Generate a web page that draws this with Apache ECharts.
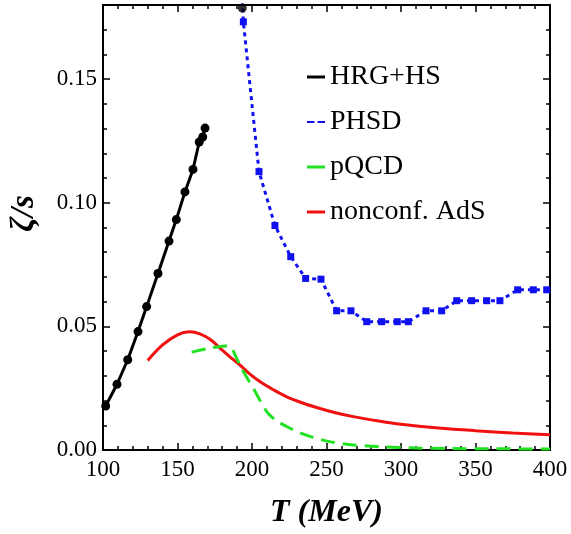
<!DOCTYPE html>
<html>
<head>
<meta charset="utf-8">
<script src="https://cdn.jsdelivr.net/npm/echarts@6/dist/echarts.min.js"></script>
<style>html,body{margin:0;padding:0;background:#fff}#c{width:571px;height:534px}</style>
</head>
<body>
<div id="c"></div>
<script>
// HRG+HS (T, zeta/s)
var hrgT = [101.8, 109.4, 116.6, 123.5, 129.3, 136.9, 144.3, 149.2, 155.0, 160.4, 164.6, 166.9, 168.5];
var hrgV = [0.0178, 0.0266, 0.0365, 0.0479, 0.0580, 0.0714, 0.0845, 0.0932, 0.1044, 0.1135, 0.1246, 0.1266, 0.1302];
var hrgExtraT = [193.5];
var hrgExtraV = [0.1788];
// PHSD
var phsdT = [189.0, 194.2, 204.7, 215.4, 226.0, 236.0, 246.3, 256.8, 266.4, 277.0, 287.0, 297.5, 304.9, 316.8, 327.3, 337.4, 347.4, 357.5, 366.4, 378.3, 388.8, 397.8];
var phsdV = [0.240, 0.1732, 0.1126, 0.0908, 0.0782, 0.0694, 0.0691, 0.0563, 0.0563, 0.0519, 0.0519, 0.0519, 0.0519, 0.0563, 0.0563, 0.0604, 0.0604, 0.0604, 0.0604, 0.0648, 0.0648, 0.0648];
// pQCD
var pqcdT = [159.5, 170, 182, 185, 186.5, 189, 193.1, 200.9, 209.9, 216, 223.3, 232, 241, 252, 263.6, 286, 310, 330, 360, 400];
var pqcdV = [0.0396, 0.0410, 0.0421, 0.0419, 0.0412, 0.0380, 0.0329, 0.0249, 0.0155, 0.0120, 0.0095, 0.0070, 0.0051, 0.0034, 0.0023, 0.0013, 0.0008, 0.0006, 0.0005, 0.0004];
// nonconformal AdS
var adsT = [130, 140, 150, 158, 165, 172, 178.5, 185, 192, 198, 205, 214, 223, 234, 245, 256, 268, 286, 300, 325, 350, 375, 400];
var adsV = [0.0362, 0.0425, 0.0466, 0.0478, 0.0470, 0.0447, 0.0412, 0.0378, 0.0343, 0.0310, 0.0278, 0.0245, 0.0216, 0.0190, 0.0169, 0.0151, 0.0135, 0.0116, 0.0104, 0.0089, 0.0078, 0.0069, 0.0062];
var yTickLabels = ['0.00', '0.05', '0.10', '0.15'];

function zip(a, b) { return a.map(function (x, i) { return [x, b[i]]; }); }

var serif = 'Liberation Serif';
var tickStyle = {color: '#000', width: 1.5};
function xAx(pos, labels) {
  return {
    type: 'value', min: 100, max: 400, interval: 50, position: pos,
    axisLine: {onZero: false, lineStyle: {color: '#000', width: 2}},
    axisTick: {inside: true, length: 7, lineStyle: tickStyle},
    minorTick: {show: true, splitNumber: 5, length: 4, lineStyle: tickStyle},
    splitLine: {show: false}, minorSplitLine: {show: false},
    axisLabel: {show: labels, fontFamily: serif, fontSize: 23, color: '#000', margin: 8}
  };
}
function yAx(pos, interval, len, line, labels) {
  return {
    type: 'value', min: 0, max: 0.18, interval: interval, position: pos,
    axisLine: {show: line, onZero: false, lineStyle: {color: '#000', width: 2}},
    axisTick: {inside: true, length: len, lineStyle: tickStyle},
    splitLine: {show: false},
    axisLabel: {show: labels, showMaxLabel: false, fontFamily: serif, fontSize: 23, color: '#000', margin: 6,
      formatter: function (v) { var i = Math.round(v / 0.05); return yTickLabels[i] || ''; }}
  };
}
var xa0 = xAx('bottom', true);
xa0.name = 'T (MeV)';
xa0.nameLocation = 'middle';
xa0.nameGap = 47;
xa0.nameTextStyle = {fontFamily: serif, fontSize: 32, fontWeight: 'bold', fontStyle: 'italic', color: '#000'};
var ya0 = yAx('left', 0.05, 7, true, true);
ya0.name = 'ζ/s';
ya0.nameLocation = 'middle';
ya0.nameGap = 62;
ya0.nameRotate = 90;
ya0.nameTextStyle = {fontFamily: serif, fontSize: 33, fontWeight: 'bold', fontStyle: 'italic', color: '#000', padding: [0, 0, 0, 28]};

var chart = echarts.init(document.getElementById('c'));
chart.setOption({
  animation: false,
  backgroundColor: '#fff',
  grid: {left: 103, right: 21, top: 5, bottom: 82, containLabel: false},
  xAxis: [xa0, xAx('top', false)],
  yAxis: [ya0, yAx('left', 0.01, 4, false, false), yAx('right', 0.05, 7, true, false), yAx('right', 0.01, 4, false, false)],
  legend: {
    orient: 'vertical', left: 302, top: 58, itemWidth: 18, itemHeight: 3, itemGap: 17,
    textStyle: {fontFamily: serif, fontSize: 28, color: '#000', lineHeight: 28},
    itemStyle: {borderWidth: 0},
    data: [
      {name: 'HRG+HS', icon: 'rect'},
      {name: 'PHSD', icon: 'path://M0,0H7V2H0Z M10,0H17V2H10Z'},
      {name: 'pQCD', icon: 'rect'},
      {name: 'nonconf. AdS', icon: 'rect'}
    ]
  },
  series: [
    {name: 'nonconf. AdS', type: 'line', data: zip(adsT, adsV), color: '#f01010', showSymbol: false, smooth: 0.35,
      lineStyle: {width: 3, color: '#f01010'}, z: 2},
    {name: 'pQCD', type: 'line', data: zip(pqcdT, pqcdV), color: '#22e022', showSymbol: false, smooth: 0.25,
      lineStyle: {width: 3, color: '#22e022', type: [14, 8]}, z: 3},
    {name: 'PHSD', type: 'line', data: zip(phsdT, phsdV), color: '#1010f0', symbol: 'rect', symbolSize: 7,
      itemStyle: {color: '#1010f0'}, lineStyle: {width: 3, color: '#1010f0', type: [4, 4]}, z: 4},
    {name: 'HRG+HS', type: 'line', data: zip(hrgT, hrgV), color: '#000', symbol: 'circle', symbolSize: 9,
      itemStyle: {color: '#000'}, lineStyle: {width: 3, color: '#000'}, z: 5},
    {name: 'HRG+HS', type: 'scatter', data: zip(hrgExtraT, hrgExtraV), color: '#000', symbolSize: 9,
      itemStyle: {color: '#000'}, z: 5}
  ]
});
</script>
</body>
</html>
